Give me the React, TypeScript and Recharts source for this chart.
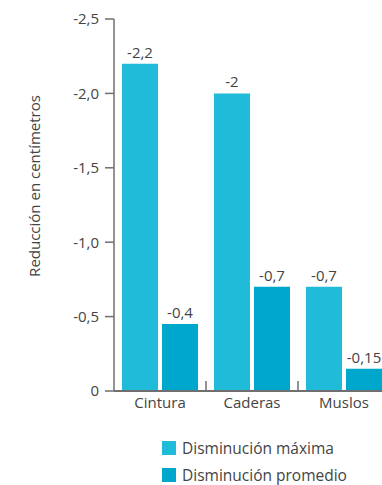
import { BarChart, Bar, XAxis, YAxis, LabelList } from 'recharts'

const categories = ['Cintura', 'Caderas', 'Muslos']
const maxDrop = [-2.2, -2.0, -0.7]
const avgDrop = [-0.45, -0.7, -0.15]
const maxLabels = ['-2,2', '-2', '-0,7']
const avgLabels = ['-0,4', '-0,7', '-0,15']
const yTicks = [-2.5, -2, -1.5, -1, -0.5, 0]
const legendItems = ['Disminución máxima', 'Disminución promedio']

const C_MAX = '#20BBD9'
const C_AVG = '#00A7CC'
const AXIS = '#6f6f6f'
const TEXT = '#444'
const FONT = '"Open Sans", sans-serif'

const data = categories.map((name, i) => ({
  name, max: maxDrop[i], avg: avgDrop[i], maxLabel: maxLabels[i], avgLabel: avgLabels[i],
}))

const fmtY = (v: number) => (v === 0 ? '0' : v.toFixed(1).replace('.', ','))

const XTick = (props: any) => {
  const { x, y, payload, index } = props
  const half = payload?.offset || 46
  return (
    <g>
      {index > 0 && <line x1={x - half} x2={x - half} y1={y - 10} y2={y} stroke={AXIS} strokeWidth={1.5} />}
      <text x={x} y={y + 17} textAnchor="middle" fill={TEXT} fontSize={15} fontFamily={FONT}>{payload.value}</text>
    </g>
  )
}

const YLabel = (props: any) => {
  const { viewBox } = props
  const x = viewBox.x + 34
  const y = viewBox.y + viewBox.height / 2 - 19
  return (
    <text x={x} y={y} transform={`rotate(-90, ${x}, ${y})`} textAnchor="middle" dominantBaseline="central"
      fill={TEXT} fontSize={15} fontFamily={FONT}>
      Reducción en centímetros
    </text>
  )
}

export default function App() {
  return (
    <div style={{ position: 'absolute', left: 0, top: 0, width: 382, height: 485, overflow: 'hidden', background: '#fff' }}>
      <BarChart width={392} height={485} data={data} margin={{ top: 19, right: 2, bottom: 64, left: 0 }}
        barSize={36} barGap={4}>
        <YAxis reversed domain={[-2.5, 0]} ticks={yTicks} tickFormatter={fmtY} width={114}
          tick={{ fill: TEXT, fontSize: 15, fontFamily: FONT }} tickSize={9} tickMargin={6}
          axisLine={{ stroke: AXIS, strokeWidth: 1.5 }} tickLine={{ stroke: AXIS, strokeWidth: 1.5 }}
          label={<YLabel />} />
        <XAxis dataKey="name" height={30} tickSize={0} tickMargin={0} tickLine={false}
          axisLine={{ stroke: AXIS, strokeWidth: 2 }} tick={<XTick />} interval={0} />
        <Bar dataKey="max" fill={C_MAX} isAnimationActive={false}>
          <LabelList dataKey="maxLabel" position="top" offset={6} fill={TEXT} fontSize={15} fontFamily={FONT} />
        </Bar>
        <Bar dataKey="avg" fill={C_AVG} isAnimationActive={false}>
          <LabelList dataKey="avgLabel" position="top" offset={6} fill={TEXT} fontSize={15} fontFamily={FONT} />
        </Bar>
      </BarChart>
      <div style={{ position: 'absolute', left: 162, top: 439, fontFamily: FONT, fontSize: 15.5, color: TEXT, lineHeight: '18px' }}>
        {legendItems.map((t, i) => (
          <div key={t} style={{ display: 'flex', alignItems: 'center', height: 18, marginBottom: 9 }}>
            <span style={{ display: 'inline-block', width: 14, height: 14, background: i === 0 ? C_MAX : C_AVG, marginRight: 6 }} />
            {t}
          </div>
        ))}
      </div>
    </div>
  )
}
